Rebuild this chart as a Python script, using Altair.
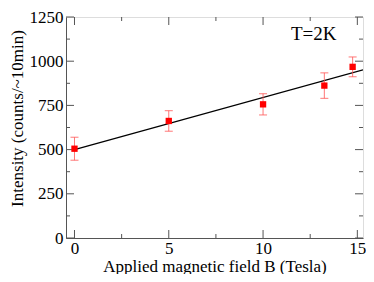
import altair as alt
import pandas as pd

# data
field_B = [0, 5, 10, 13.25, 14.75]
intensity = [505, 662, 756, 862, 968]
error = [65, 58, 60, 72, 56]
fit_B = [0, 15.3]
fit_I = [500, 951]
x_major = [0, 5, 10, 15]
x_minor = [2.5, 7.5, 12.5]
y_major = [0, 250, 500, 750, 1000, 1250]
y_minor = [125, 375, 625, 875, 1125]
label_text = ["T=2K"]
x_title = "Applied magnetic field B (Tesla)"
y_title = "Intensity (counts/~10min)"

W, H = 297, 221
FONT = "Liberation Serif"
FRAME = "#555555"

pts = pd.DataFrame({"B": field_B, "I": intensity, "e": error})
pts["lo"] = pts["I"] - pts["e"]
pts["hi"] = pts["I"] + pts["e"]
fit = pd.DataFrame({"B": fit_B, "I": fit_I})

xs = alt.Scale(domain=[-0.45, 15.3], nice=False, zero=False)
ys = alt.Scale(domain=[0, 1250], nice=False)

xaxis = alt.Axis(values=x_major, format="d", tickSize=0, labelFont=FONT, labelFontSize=17,
                 labelColor="black", labelPadding=2, titleFont=FONT, titleFontSize=17,
                 titleFontWeight="normal", titleColor="black", titlePadding=2,
                 domainColor=FRAME, grid=False, labelFlush=False)
yaxis = alt.Axis(values=y_major, format="d", tickSize=0, labelFont=FONT, labelFontSize=17,
                 labelColor="black", labelPadding=3, titleFont=FONT, titleFontSize=17,
                 titleFontWeight="normal", titleColor="black", titlePadding=3, titleY=101,
                 domainColor=FRAME, grid=False)

def X(f):
    return alt.X(f, scale=xs, axis=xaxis, title=x_title)

def Y(f):
    return alt.Y(f, scale=ys, axis=yaxis, title=y_title)

base = alt.Chart(pts)

line = alt.Chart(fit).mark_line(color="black", strokeWidth=1.3, clip=True).encode(
    x=X("B:Q"), y=Y("I:Q"))

bars = base.mark_rule(color="#ff5555", strokeWidth=1, opacity=0.8).encode(
    x=X("B:Q"), y=Y("lo:Q"), y2="hi:Q")
cap_lo = base.mark_tick(color="#ff5555", orient="horizontal", size=8, thickness=1, opacity=0.8).encode(
    x=X("B:Q"), y=Y("lo:Q"))
cap_hi = base.mark_tick(color="#ff5555", orient="horizontal", size=8, thickness=1, opacity=0.8).encode(
    x=X("B:Q"), y=Y("hi:Q"))
marks = base.mark_point(shape="square", filled=True, color="red", size=40, opacity=1).encode(
    x=X("B:Q"), y=Y("I:Q"))

def xticks(vals, ln):
    d = pd.DataFrame({"v": vals})
    b = alt.Chart(d).mark_rule(color=FRAME, strokeWidth=1).encode(
        x=X("v:Q"), y=alt.value(H), y2=alt.value(H - ln))
    t = alt.Chart(d).mark_rule(color=FRAME, strokeWidth=1).encode(
        x=X("v:Q"), y=alt.value(0), y2=alt.value(ln))
    return b + t

def yticks(vals, ln):
    d = pd.DataFrame({"v": vals})
    l = alt.Chart(d).mark_rule(color=FRAME, strokeWidth=1).encode(
        y=Y("v:Q"), x=alt.value(0), x2=alt.value(ln))
    r = alt.Chart(d).mark_rule(color=FRAME, strokeWidth=1).encode(
        y=Y("v:Q"), x=alt.value(W), x2=alt.value(W - ln))
    return l + r

label = alt.Chart(pd.DataFrame({"t": label_text})).mark_text(
    font=FONT, fontSize=19, color="black", align="left", baseline="middle").encode(
    text="t:N", x=alt.value(225), y=alt.value(17))

chart = alt.layer(
    line, xticks(x_major, 8), xticks(x_minor, 4), yticks(y_major, 8), yticks(y_minor, 4),
    bars, cap_lo, cap_hi, marks, label
).properties(
    width=W, height=H,
    autosize=alt.AutoSizeParams(type="none"),
    padding={"left": 58, "top": 9, "right": 3, "bottom": 36},
).configure_view(stroke=FRAME, strokeWidth=1).configure(background="white")

chart.save("out.html", embed_options={"renderer": "svg", "actions": False})
